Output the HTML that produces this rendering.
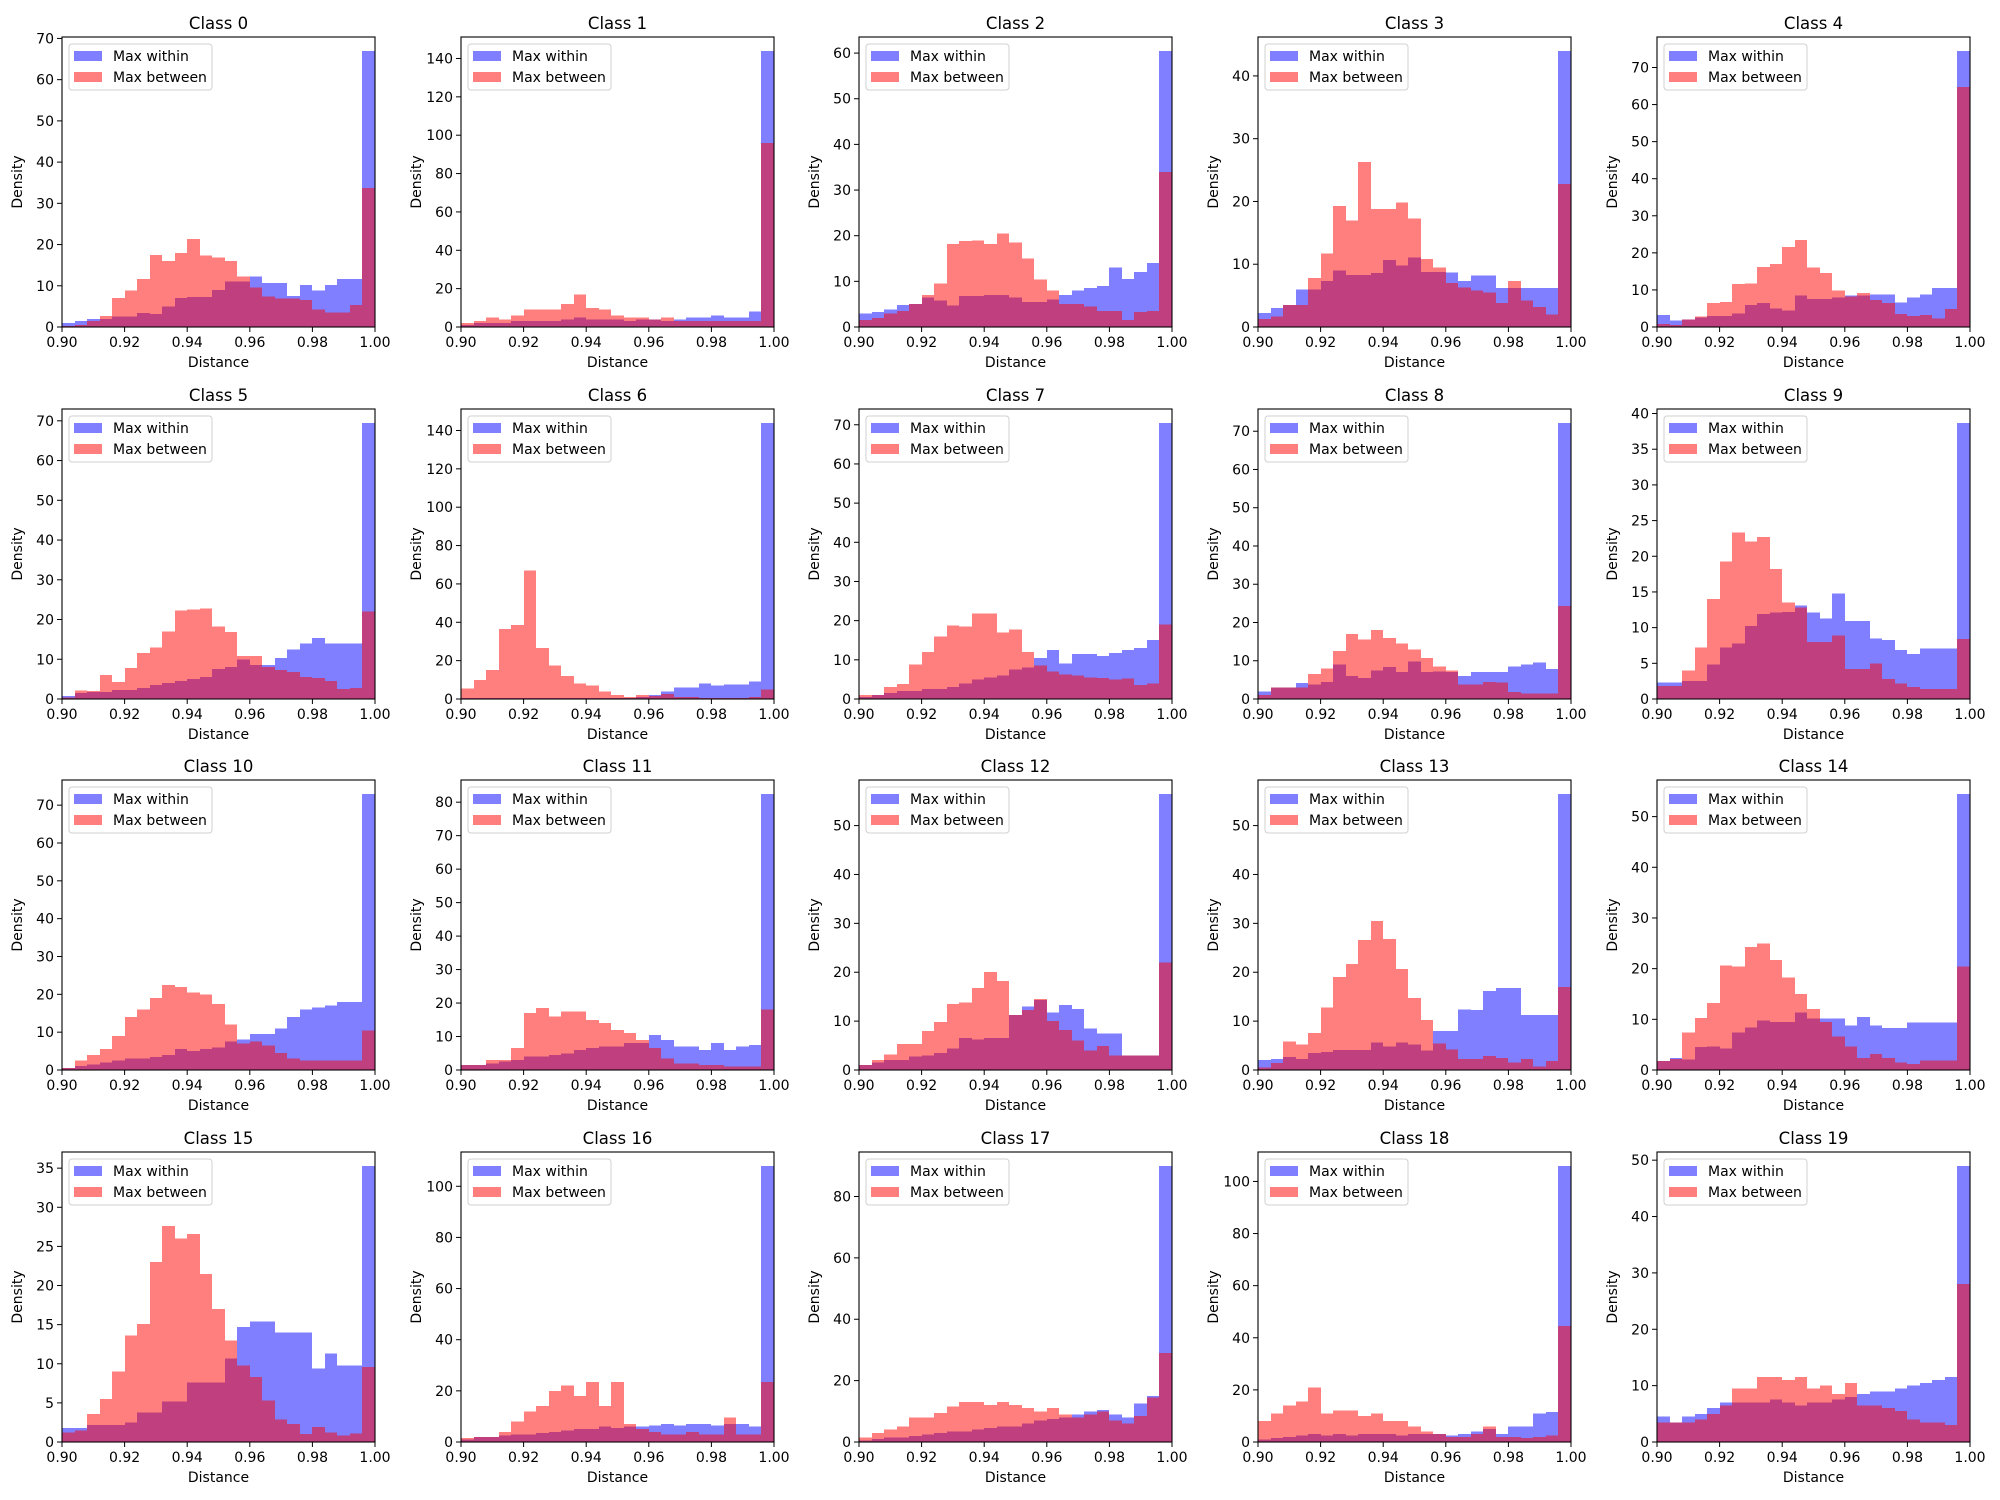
<!DOCTYPE html>
<html><head><meta charset="utf-8">
<style>
html,body{margin:0;padding:0;background:#fff;}
svg{display:block;font-family:"DejaVu Sans","Liberation Sans",sans-serif;}
</style></head>
<body>
<svg id="fig" width="2000" height="1500" viewBox="0 0 2000 1500" xmlns="http://www.w3.org/2000/svg"></svg>
<script>
// Chart data: per-class density values for 25 bins of width 0.004 from 0.90 to 1.00
const binStart = 0.90;
const binWidth = 0.004;
const xTicks = [0.90, 0.92, 0.94, 0.96, 0.98, 1.00];
const xTickLabels = ["0.90","0.92","0.94","0.96","0.98","1.00"];
const classNames = ["Class 0","Class 1","Class 2","Class 3","Class 4","Class 5","Class 6","Class 7","Class 8","Class 9","Class 10","Class 11","Class 12","Class 13","Class 14","Class 15","Class 16","Class 17","Class 18","Class 19"];
const seriesNames = ["Max within","Max between"];
const withinValues = [
[1,1.5,2,2,2.5,2.5,3.4,3.2,5,7,7.3,7.3,9,11,11,12.3,10.7,10.7,7.5,10.2,8.8,10.2,11.7,11.7,67],
[1,2,2,2,3,3,3,3,4,5,4,4,4,3,4,4,3,4,5,5,6,5,5,8,144],
[3,3.3,3.8,4.8,5,6.5,5.8,4.7,6.8,6.8,7,7,6.5,5.5,5.5,6,7,8,8.5,9,13,10.5,12,14,60.5],
[2.2,3,3.5,6,6,7.3,9,8.3,8.3,8.6,10.7,9.8,11.1,8.8,8.8,8.7,7.3,8.2,8.2,6.2,6.2,6.2,6.2,6.2,44],
[3.2,1.8,2,2.5,3,3,3.6,6,6.5,5,4.5,8.5,7.5,7.5,8,8.5,8.5,8.8,8.8,6.6,8,8.7,10.5,10.5,74.5],
[0.7,1.5,1.8,1.8,2.3,2.3,2.8,3.5,4,4.5,5,5.5,7.5,8,10,8.5,8.5,10.3,12.5,14,15.3,14,14,14,69.5],
[0.5,0.5,0.5,0.5,0.5,0.5,0.5,0.5,0.5,0.5,0.5,0.5,0.5,0.5,1,2,4,6,6,8,7,7.5,7.5,9,144],
[0.5,1,1.5,2,2,2.5,2.5,3,4,5,5.5,6,7.5,8,10.5,12.5,9,11.5,11.5,11,11.8,12.5,13,15,70.5],
[2,3,3,4.2,3.8,4.5,9,6,5.5,7.5,8.3,7,9.8,7,7.2,7,6,7,7,7,8.5,9,9.5,7.8,72.2],
[2.3,2.3,2.5,2.5,4.8,7.2,7.8,10.2,11.9,12.1,12.2,13.1,12.1,11.3,14.8,10.9,10.9,8.5,8.3,6.9,6.3,7.1,7.1,7.1,38.7],
[0.5,1,1.5,2,2.5,3,3,3.5,4,5.5,5,5.5,6,7.5,8,9.5,9.5,11,14,16,16.5,17,18,18,73],
[1.5,1.5,2,2.5,3,4,4,4.5,5,6,6.5,7,7,8,8,10.5,9,7,7,6,8,6,7,7.5,82.5],
[1,1.5,2,2,2.8,3,3.5,4.4,6.5,6.2,6.5,6.5,11.3,13,14.3,11.8,13.3,12.5,8.5,7.5,7.5,3,3,3,56.5],
[2,2.2,2.7,2.2,3.5,3.7,4.1,4.1,4.1,5.6,4.8,5.6,5.2,4,8,8,12.4,12.3,16.2,16.8,16.8,11.3,11.3,11.3,56.5],
[1.8,2.4,2.1,4.5,4.6,4.2,7.4,8.4,9.8,9.5,9.5,11.3,10.2,10.2,10.2,8.8,10.5,8.8,8.3,8.3,9.4,9.4,9.4,9.4,54.5],
[1.8,1.8,2.2,2.2,2.2,2.5,3.8,3.8,5.2,5.2,7.6,7.6,7.6,10.7,14.7,15.4,15.4,14,14,14,9.4,11.3,9.8,9.8,35.3],
[1,2,2,2.5,3,3,3.5,4,4.5,5,5,6,5.5,6,6,6.5,7,6.5,7,7,6.5,7,7,6,108],
[0.5,1,1.5,1.5,2,2.5,3,3.5,3.5,4,4.5,5,5,6,7,7.5,8,9,10,10.5,9,8,12.5,15,90],
[1,1.5,2,2.5,3,2.5,3,2.5,3,3,3,2.5,3,3,3,2.5,3,4,5,3,6,6,11,11.5,106],
[4.5,3.5,4.5,5,6,7,7,7,7,7.5,7,6.5,7,7,7.5,8,8.5,9,9,9.5,10,10.5,11,11.5,49]
];
const betweenValues = [
[0.3,0.5,1.5,2.7,7,8.8,11.7,17.5,16,17.9,21.3,17.3,16.8,16,12.2,9.6,7.4,6.9,6.9,6.6,4.2,3.5,3.5,5.3,33.7],
[2,3,5,4,6,9,9,9,12,17,10,9,6,5,5,4,5,3,3,3,3,3,3,3,96],
[1.5,2,3,3.5,5,7,9.5,18.2,18.8,19,18.2,20.5,18.5,15,10.4,8,5,5,4.5,3.5,3.5,1.5,3.3,3.5,34],
[1.3,1.7,3.5,3.5,7.8,11.7,19.3,17,26.3,18.8,18.8,19.8,17.3,10.8,9.5,7,6.3,5.8,5.5,3.8,7.3,4.2,3.2,2,22.8],
[0.8,0.5,2,2.8,6.5,6.8,11.6,11.8,16.2,17,21.6,23.5,16,14.5,9.8,8.2,9.2,7.3,6.5,3.5,3,3.3,2.3,4.8,64.8],
[0.4,2.2,2,6,4.3,7.8,11.6,13,17,22.3,22.5,22.8,18.2,16.8,10.8,10.8,8,7.3,6.8,5.5,5.3,4.5,2.5,2.8,22],
[5.5,10,15,36.5,38.5,67,26.5,17.5,12,8,7,4,2,1,2,1.5,2.5,1,1,0.5,0.5,0.5,0.5,1,5],
[1,1,3,3.8,8.8,12,16,18.8,18.5,21.8,21.8,17,17.8,12,8.5,7,6.3,6,5.5,5.3,5,5.2,3.6,4,19],
[1,3,3,3,6.5,8,12.5,17,15.5,18,16,14.5,13,10.7,8.5,7.5,3.8,3.8,4.5,4.3,1.8,1.5,1.5,1.5,24.3],
[1.8,1.8,4,7.2,14,19.3,23.3,22.1,22.7,18.2,13.5,12.8,8,8,8.9,4.2,4.2,5,2.8,2.2,1.7,1.4,1.4,1.4,8.4],
[0.5,2.5,4,5.5,9,14,16,19,22.5,22,20.5,20,17.5,12,7,7.5,6.5,4.5,3,2.5,2.5,2.5,2.5,2.5,10.5],
[1.5,1.5,3,3,6.5,17,18.5,16,17.5,17.5,15,14,12,11,9,6.5,3.5,2,2,1.5,1.5,1,1,1,18],
[1,2,3.2,5.3,5.3,8,9.8,13.5,13.8,16.8,20,18.2,11.3,12.3,14.5,10,8.2,6,4,4.9,3,3,3,3,22],
[0.5,1.4,5.8,5.2,7.6,12.8,19,21.7,26.6,30.5,26.8,20.7,14.7,10.2,5.4,4.2,2.3,2.3,2.9,2.5,1.5,2.3,0.7,1.8,17],
[1.8,2.2,7.4,10.3,13.2,20.6,20.4,24.3,25,21.7,18.3,15,12,9.5,6.6,4.6,2.4,3.2,2.4,1.5,1.2,1.9,1.9,1.9,20.4],
[1.2,1.5,3.6,5.5,9,13.6,15.1,23,27.6,26,26.6,21.5,17,13,9.8,8.3,5.3,2.9,2.3,1,1.9,1.2,0.8,1.1,9.6],
[1.5,2,2,4,8,12,14,20,22,18,23.5,14,23.5,7,5,4,3,3,4,3,3,9.5,3,3,23.5],
[1.5,3,4,5,8,8,9.5,11.5,13,13,12,13,12,11,10,11,9,8,9,10,7,6,8.5,14.5,29],
[8,11,14,15.5,21,11,12,12,10,11,8,8,6,4,3,2,2,3,6,2,2,1.5,2,2.5,44.5],
[3.5,3.5,3.5,4,5,6.5,9.5,9.5,11.5,11.5,11,11.5,9.5,10,8.5,10.5,6.5,6.5,6,5.5,4,3.5,3.5,3,28]
];

const NS = "http://www.w3.org/2000/svg";
const svg = document.getElementById('fig');
const colLeft = [62, 461, 859, 1258, 1657];
const rowTop = [37, 409, 780, 1152];
const AW = 313, AH = 290;
const FONT = 14;

function mk(tag, attrs, parent) {
  const e = document.createElementNS(NS, tag);
  for (const k in attrs) e.setAttribute(k, attrs[k]);
  parent.appendChild(e);
  return e;
}
function niceStep(ymax) {
  const mag = Math.pow(10, Math.floor(Math.log10(ymax)));
  const cands = [0.1,0.2,0.25,0.5,1,2,2.5,5,10].map(m => m * mag);
  for (const s of cands) { if (Math.floor(ymax / s) + 1 <= 9) return s; }
  return 10 * mag;
}

classNames.forEach((name, ci) => {
  const x0 = colLeft[ci % 5], y0 = rowTop[Math.floor(ci / 5)];
  const within = withinValues[ci], between = betweenValues[ci];
  const ymax = 1.05 * Math.max(...within, ...between);
  const xs = v => x0 + (v - 0.9) / 0.1 * AW;
  const ys = v => y0 + AH - v / ymax * AH;

  const g = mk('g', {}, svg);
  
  

  const t = mk('text', {x: x0 + AW/2, y: y0 - 8, 'text-anchor': 'middle', 'font-size': 16.5, fill: '#000'}, g);
  
  
  t.textContent = name;

  const series = [[within, 'rgba(0,0,255,0.5)', 'within'], [between, 'rgba(255,0,0,0.5)', 'between']];
  series.forEach(([vals, col, key]) => {
    const sg = mk('g', {fill: col, 'shape-rendering': 'crispEdges'}, g);
    
    
    vals.forEach((v, i) => {
      const a = Math.round(xs(binStart + i * binWidth)), b = Math.round(xs(binStart + (i + 1) * binWidth));
      const r = mk('rect', {x: a, y: ys(v), width: b - a, height: ys(0) - ys(v)}, sg);
      
      
    });
  });

  const frame = mk('rect', {x: x0, y: y0, width: AW, height: AH, fill: 'none', stroke: '#000', 'stroke-width': 1.1}, g);
  
  

  xTicks.forEach((tv, i) => {
    const x = xs(tv);
    mk('line', {x1: x, x2: x, y1: y0 + AH, y2: y0 + AH + 5, stroke: '#000', 'stroke-width': 1}, g);
    const tl = mk('text', {x: x, y: y0 + AH + 20, 'text-anchor': 'middle', 'font-size': FONT, fill: '#000'}, g);
    
    
    tl.textContent = xTickLabels[i];
  });
  const step = niceStep(ymax);
  for (let v = 0; v <= ymax + 1e-9; v += step) {
    const y = ys(v);
    mk('line', {x1: x0 - 5, x2: x0, y1: y, y2: y, stroke: '#000', 'stroke-width': 1}, g);
    const tl = mk('text', {x: x0 - 8, y: y + 5, 'text-anchor': 'end', 'font-size': FONT, fill: '#000'}, g);
    
    
    tl.textContent = String(Math.round(v * 100) / 100);
  }
  const xl = mk('text', {x: x0 + AW/2, y: y0 + AH + 40, 'text-anchor': 'middle', 'font-size': FONT, fill: '#000'}, g);
  
  
  xl.textContent = 'Distance';
  const yl = mk('text', {x: 0, y: 0, 'text-anchor': 'middle', 'font-size': FONT, fill: '#000', transform: `translate(${x0 - 40},${y0 + AH/2}) rotate(-90)`}, g);
  
  
  yl.textContent = 'Density';

  const lg = mk('g', {}, g);
  
  
  mk('rect', {x: x0 + 7, y: y0 + 7, width: 143, height: 46, rx: 3, fill: 'rgba(255,255,255,0.8)', stroke: '#d0d0d0', 'stroke-width': 1}, lg);
  seriesNames.forEach((sn, i) => {
    const sw = mk('rect', {x: x0 + 12, y: y0 + 14 + i * 21, width: 28, height: 10, fill: i === 0 ? 'rgba(0,0,255,0.5)' : 'rgba(255,0,0,0.5)'}, lg);
    
    
    const lt = mk('text', {x: x0 + 51, y: y0 + 24 + i * 21, 'font-size': FONT, fill: '#000'}, lg);
    
    
    lt.textContent = sn;
  });
});
</script>
</body></html>
